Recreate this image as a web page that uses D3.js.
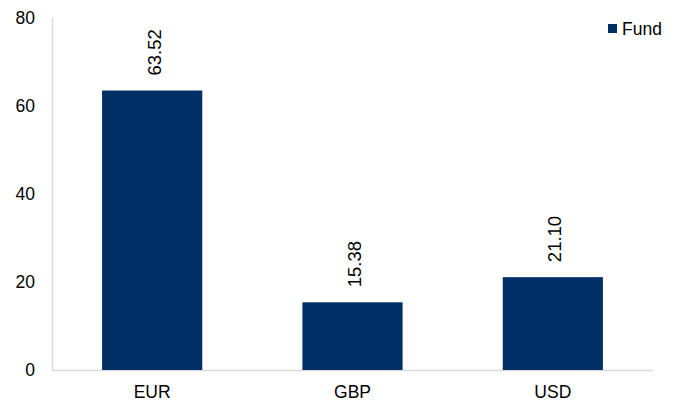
<!DOCTYPE html>
<html><head><meta charset="utf-8">
<script src="https://cdn.jsdelivr.net/npm/d3@7"></script>
<style>body{margin:0;background:#fff}svg{display:block}</style>
</head><body>
<svg id="c" width="679" height="403"></svg>
<script>
const categories = ["EUR", "GBP", "USD"];
const fundValues = [63.52, 15.38, 21.10];
const yTicks = [0, 20, 40, 60, 80];
const seriesName = "Fund";

const svg = d3.select("#c");
const font = "Liberation Sans, Arial, sans-serif";
const fs = 17.5;
const m = {left: 52, right: 26, top: 18, bottom: 33};
const W = 679, H = 403;
const x = d3.scaleBand().domain(categories).range([m.left, W - m.right]).paddingInner(0.5).paddingOuter(0.25);
const y = d3.scaleLinear().domain([0, 80]).range([H - m.bottom, m.top]);
const color = "#002f66";

// axes lines
svg.append("line").attr("x1", m.left + 0.5).attr("x2", m.left + 0.5)
  .attr("y1", y(80)).attr("y2", y(0)).attr("stroke", "#d9d9d9").attr("stroke-width", 1.5);
svg.append("line").attr("x1", m.left).attr("x2", W - m.right)
  .attr("y1", y(0) + 0.5).attr("y2", y(0) + 0.5).attr("stroke", "#d9d9d9").attr("stroke-width", 1.5);

// y tick labels
svg.append("g").selectAll("text").data(yTicks).join("text")
  .attr("x", 35).attr("y", d => y(d)).attr("dy", "0.35em")
  .attr("text-anchor", "end").attr("font-family", font).attr("font-size", fs).attr("fill", "#000")
  .text(d => d);

// bars
svg.append("g").selectAll("rect").data(categories).join("rect")
  .attr("x", d => x(d)).attr("width", x.bandwidth())
  .attr("y", (d, i) => y(fundValues[i])).attr("height", (d, i) => y(0) - y(fundValues[i]))
  .attr("fill", color);

// value labels
svg.append("g").selectAll("text").data(categories).join("text")
  .attr("transform", (d, i) => `translate(${x(d) + x.bandwidth() / 2 + 8.5},${y(fundValues[i]) - 15}) rotate(-90)`)
  .attr("font-family", font).attr("font-size", 18.5).attr("fill", "#000")
  .text((d, i) => fundValues[i].toFixed(2));

// x labels
svg.append("g").selectAll("text").data(categories).join("text")
  .attr("x", d => x(d) + x.bandwidth() / 2).attr("y", y(0) + 28)
  .attr("text-anchor", "middle").attr("font-family", font).attr("font-size", fs).attr("fill", "#000")
  .text(d => d);

// legend
svg.append("rect").attr("x", 608).attr("y", 24).attr("width", 9).attr("height", 9).attr("fill", color);
svg.append("text").attr("x", 622).attr("y", 35).attr("font-family", font).attr("font-size", fs).attr("fill", "#000").text(seriesName);
</script>
</body></html>
